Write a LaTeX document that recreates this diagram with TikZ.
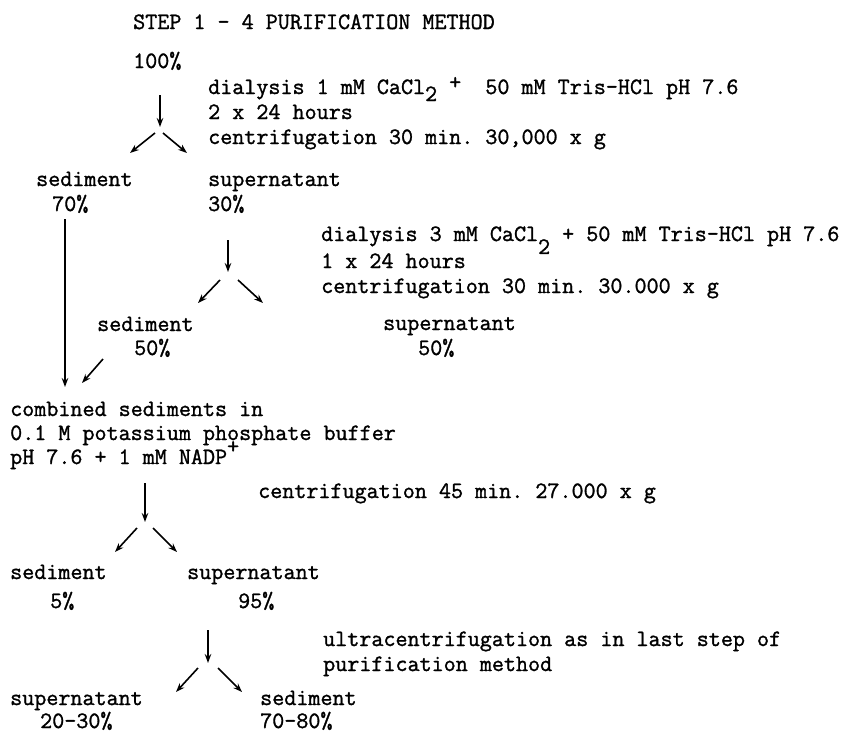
\documentclass[tikz,border=0pt]{standalone}
\usepackage{fontspec}
\setmainfont{Latin Modern Mono}[FakeBold=1.3]
\frenchspacing
\usetikzlibrary{arrows.meta}

\begin{document}
\begin{tikzpicture}[x=1pt,y=-1pt,
	txt/.style={anchor=base west,inner sep=0pt,font=\fontsize{23.4}{25}\selectfont},
	flow/.style={->,>={Stealth[length=9pt,width=6.5pt]},line width=1.6pt}]
	\useasboundingbox (0,0) rectangle (859,732);
	
	%heading
	\node[txt] (title) at (133,29) {STEP 1 - 4 PURIFICATION METHOD};
	\node[txt] (start) at (133,68) {100\%};
	
	%first dialysis
	\node[txt] (diaA) at (208,94) {dialysis 1 mM CaCl\raisebox{-0.3em}{2} \raisebox{0.2em}{+}~ 50 mM Tris-HCl pH 7.6};
	\node[txt] (diaAt) at (208,119) {2 x 24 hours};
	\node[txt] (cenA) at (208,144) {centrifugation 30 min. 30,000 x g};
	\coordinate (topA) at (160,95);	\coordinate (tipA) at (160,127);
	\coordinate (leftA) at (130,153);	\coordinate (rightA) at (187,153);
	\draw[flow] (topA) -- (tipA);
	\draw[flow] ([shift={(-5,6)}]tipA) -- (leftA);
	\draw[flow] ([shift={(3,6)}]tipA) -- (rightA);
	\node[txt] (sedA) at (36,186) {sediment};
	\node[txt] (sedApc) at (52,211) {70\%};
	\node[txt] (supA) at (208,186) {supernatant};
	\node[txt] (supApc) at (208,211) {30\%};
	
	%second dialysis
	\node[txt] (diaB) at (321,241) {dialysis 3 mM CaCl\raisebox{-0.55em}{2} + 50 mM Tris-HCl pH 7.6};
	\node[txt] (diaBt) at (321,268) {1 x 24 hours};
	\node[txt] (cenB) at (321,293) {centrifugation 30 min. 30.000 x g};
	\coordinate (topB) at (228,240);	\coordinate (tipB) at (228,272);
	\coordinate (leftB) at (198,303);	\coordinate (rightB) at (263,303);
	\draw[flow] (topB) -- (tipB);
	\draw[flow] ([shift={(-8,8)}]tipB) -- (leftB);
	\draw[flow] ([shift={(10,8)}]tipB) -- (rightB);
	\node[txt] (sedB) at (97,331) {sediment};
	\node[txt] (sedBpc) at (134,355) {50\%};
	\node[txt] (supB) at (383,330) {supernatant};
	\node[txt] (supBpc) at (418,355) {50\%};
	
	%combining
	\coordinate (sedAend) at (65,219);	\coordinate (comA) at (65,387);
	\coordinate (sedBend) at (103,359);	\coordinate (comB) at (82,383);
	\draw[flow] (sedAend) -- (comA);
	\draw[flow] (sedBend) -- (comB);
	\node[txt] (comb) at (10,416) {combined sediments in};
	\node[txt] (combb) at (10,440) {0.1 M potassium phosphate buffer};
	\node[txt] (combc) at (10,464) {pH 7.6 + 1 mM NADP\raisebox{0.45em}{+}};
	
	%centrifugation
	\node[txt] (cenC) at (258,498) {centrifugation 45 min. 27.000 x g};
	\coordinate (topC) at (145,483);	\coordinate (tipC) at (145,522);
	\coordinate (leftC) at (115,552);	\coordinate (rightC) at (177,552);
	\draw[flow] (topC) -- (tipC);
	\draw[flow] ([shift={(-8,6)}]tipC) -- (leftC);
	\draw[flow] ([shift={(8,6)}]tipC) -- (rightC);
	\node[txt] (sedC) at (10,579) {sediment};
	\node[txt] (sedCpc) at (50,608) {5\%};
	\node[txt] (supC) at (187,579) {supernatant};
	\node[txt] (supCpc) at (238,608) {95\%};
	
	%ultracentrifugation
	\node[txt] (ultra) at (323,646) {ultracentrifugation as in last step of};
	\node[txt] (ultrab) at (323,671) {purification method};
	\coordinate (topD) at (208,630);	\coordinate (tipD) at (208,663);
	\coordinate (leftD) at (176,692);	\coordinate (rightD) at (242,692);
	\draw[flow] (topD) -- (tipD);
	\draw[flow] ([shift={(-10,5)}]tipD) -- (leftD);
	\draw[flow] ([shift={(10,5)}]tipD) -- (rightD);
	\node[txt] (supD) at (10,705) {supernatant};
	\node[txt] (supDpc) at (40,728) {20-30\%};
	\node[txt] (sedD) at (260,705) {sediment};
	\node[txt] (sedDpc) at (260,728) {70-80\%};
\end{tikzpicture}
\end{document}
